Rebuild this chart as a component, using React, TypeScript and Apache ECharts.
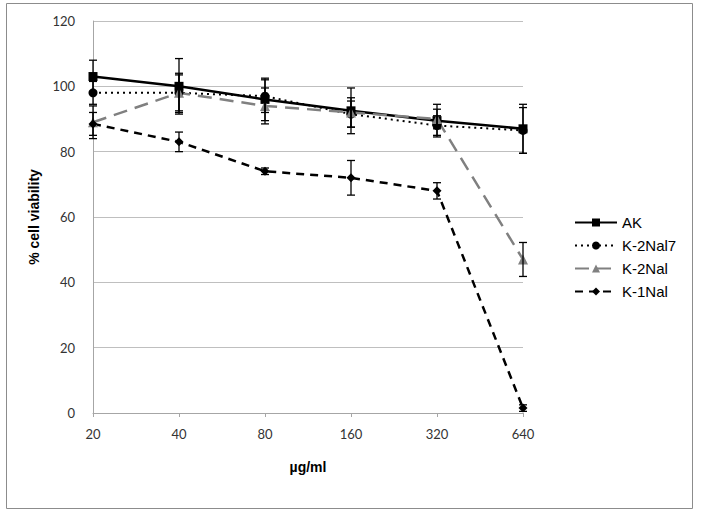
import React, { useEffect, useRef } from "react";
import * as echarts from "echarts";

const categories = ["20", "40", "80", "160", "320", "640"];
const seriesNames = ["AK", "K-2Nal7", "K-2Nal", "K-1Nal"];
const akValues = [103, 100, 96, 92.5, 89.5, 87];
const k2nal7Values = [98, 98, 97, 91.5, 88, 86.5];
const k2nalValues = [89, 98, 94, 92, 90, 47];
const k1nalValues = [88.5, 83, 74, 72, 68, 1.5];
const akErrors = [5, 8.5, 6.5, 7, 5, 7.5];
const k2nal7Errors = [3.5, 5.5, 5, 4, 3, 7];
const k2nalErrors = [5, 6, 5.5, 4.5, 3, 5.2];
const k1nalErrors = [3.5, 3, 1, 5.3, 2.5, 1];
const yTicks = [0, 20, 40, 60, 80, 100, 120];

export default function App() {
  const ref = useRef<HTMLDivElement>(null);
  useEffect(() => {
    if (!ref.current) return;
    const chart = echarts.init(ref.current, undefined, { renderer: "svg" });
    const valueSets = [akValues, k2nal7Values, k2nalValues, k1nalValues];
    const errorSets = [akErrors, k2nal7Errors, k2nalErrors, k1nalErrors];
    const styles = [
      { color: "#000000", type: "solid", width: 2.5, symbol: "rect", size: 9 },
      { color: "#000000", type: [2, 4], width: 2, symbol: "circle", size: 9 },
      { color: "#808080", type: [14, 8], width: 2.5, symbol: "triangle", size: 10 },
      { color: "#000000", type: [8, 6], width: 2.5, symbol: "diamond", size: 9 },
    ];
    const lineSeries = seriesNames.map((name, i) => ({
      name,
      type: "line",
      data: valueSets[i],
      symbol: styles[i].symbol,
      symbolSize: styles[i].size,
      showAllSymbol: true,
      lineStyle: { color: styles[i].color, type: styles[i].type, width: styles[i].width },
      itemStyle: { color: styles[i].color, borderWidth: 0 },
      z: 3,
    }));
    const errSeries = seriesNames.map((name, i) => ({
      name: name + " err",
      type: "custom",
      data: valueSets[i].map((v, j) => [j, v - errorSets[i][j], v + errorSets[i][j]]),
      z: 4,
      renderItem: (params: any, api: any) => {
        const x = api.value(0);
        const lo = api.coord([x, api.value(1)]);
        const hi = api.coord([x, api.value(2)]);
        const hw = 4;
        const st = { stroke: "#000000", lineWidth: 1.3 };
        return {
          type: "group",
          children: [
            { type: "line", shape: { x1: lo[0], y1: lo[1], x2: hi[0], y2: hi[1] }, style: st },
            { type: "line", shape: { x1: lo[0] - hw, y1: lo[1], x2: lo[0] + hw, y2: lo[1] }, style: st },
            { type: "line", shape: { x1: hi[0] - hw, y1: hi[1], x2: hi[0] + hw, y2: hi[1] }, style: st },
          ],
        };
      },
    }));
    chart.setOption({
      animation: false,
      backgroundColor: "#ffffff",
      grid: { left: 93, right: 178, top: 21, bottom: 100, containLabel: false },
      legend: {
        data: seriesNames,
        orient: "vertical",
        left: 569,
        top: 210,
        itemWidth: 42,
        itemHeight: 10,
        itemGap: 8,
        textStyle: { fontFamily: "Liberation Sans", fontSize: 15, color: "#000" },
      },
      xAxis: {
        type: "category",
        data: categories,
        boundaryGap: false,
        name: "µg/ml",
        nameLocation: "middle",
        nameGap: 47,
        nameTextStyle: { fontFamily: "Liberation Sans", fontWeight: "bold", fontSize: 14, color: "#000" },
        axisLine: { lineStyle: { color: "#a6a6a6", width: 1 } },
        axisTick: { show: true, alignWithLabel: true, length: 4, lineStyle: { color: "#a6a6a6" } },
        axisLabel: { fontFamily: "Lato", fontSize: 13, color: "#333", margin: 14 },
      },
      yAxis: {
        type: "value",
        min: 0,
        max: 120,
        interval: 20,
        name: "% cell viability",
        nameLocation: "middle",
        nameGap: 47,
        nameTextStyle: { fontFamily: "Liberation Sans", fontWeight: "bold", fontSize: 14, color: "#000" },
        axisLine: { show: true, lineStyle: { color: "#a6a6a6", width: 1 } },
        axisTick: { show: false },
        splitLine: { lineStyle: { color: "#bfbfbf", width: 1 } },
        axisLabel: { fontFamily: "Lato", fontSize: 13, color: "#333", margin: 18 },
      },
      graphic: [
        {
          type: "rect",
          shape: { x: 6.5, y: 3.5, width: 686, height: 505 },
          style: { fill: "none", stroke: "#8c8c8c", lineWidth: 1 },
          silent: true,
        },
      ],
      series: [...lineSeries, ...errSeries],
    } as any);
    return () => chart.dispose();
  }, []);
  return (
    <div
      ref={ref}
      style={{ position: "fixed", left: 0, top: 0, width: 701, height: 513 }}
    />
  );
}
